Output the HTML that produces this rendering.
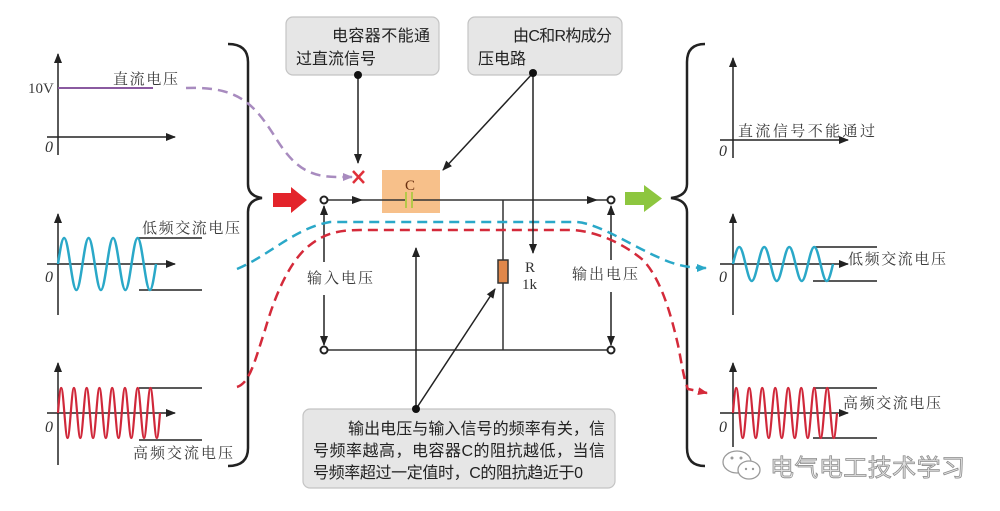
<!DOCTYPE html>
<html><head><meta charset="utf-8"><style>
html,body{margin:0;padding:0;background:#fff;}
svg{display:block;}
.sf{font-family:"Liberation Serif","Noto Serif CJK SC",serif;font-size:15px;fill:#3a3a3a;letter-spacing:2px;}
.bx{font-family:"Liberation Sans","Noto Sans CJK SC",sans-serif;font-size:16px;fill:#222;}
.it{font-family:"Liberation Serif",serif;font-style:italic;font-size:16px;fill:#333;}
</style></head><body>
<svg width="1000" height="511" viewBox="0 0 1000 511" xmlns="http://www.w3.org/2000/svg">
<defs>
<marker id="a" markerWidth="10" markerHeight="8" refX="9" refY="4" orient="auto" markerUnits="userSpaceOnUse"><path d="M0,0 L10,4 L0,8 z" fill="#222"/></marker>
<marker id="ap" markerWidth="10" markerHeight="8" refX="9" refY="4" orient="auto" markerUnits="userSpaceOnUse"><path d="M0,0 L10,4 L0,8 z" fill="#a88bbf"/></marker>
<marker id="ac" markerWidth="10" markerHeight="8" refX="9" refY="4" orient="auto" markerUnits="userSpaceOnUse"><path d="M0,0 L10,4 L0,8 z" fill="#2aa8c8"/></marker>
<marker id="ar" markerWidth="10" markerHeight="8" refX="9" refY="4" orient="auto" markerUnits="userSpaceOnUse"><path d="M0,0 L10,4 L0,8 z" fill="#d42a3a"/></marker>
</defs>

<!-- LEFT GRAPHS -->
<g stroke="#222" stroke-width="1.5" fill="none">
<line x1="58" y1="155" x2="58" y2="54" marker-end="url(#a)"/>
<line x1="47" y1="137" x2="175" y2="137" marker-end="url(#a)"/>
<line x1="58" y1="315" x2="58" y2="214" marker-end="url(#a)"/>
<line x1="47" y1="264" x2="175" y2="264" marker-end="url(#a)"/>
<line x1="58" y1="465" x2="58" y2="363" marker-end="url(#a)"/>
<line x1="47" y1="413" x2="175" y2="413" marker-end="url(#a)"/>
<line x1="138" y1="238" x2="202" y2="238"/>
<line x1="139" y1="290" x2="202" y2="290"/>
<line x1="139" y1="388" x2="202" y2="388"/>
<line x1="139" y1="440" x2="202" y2="440"/>
</g>
<line x1="58" y1="88" x2="153" y2="88" stroke="#8a5aa0" stroke-width="2"/>
<path fill="none" stroke="#2aa8c8" stroke-width="2.5" d="M58,264
c2,-13.3 3.91,-26 6.125,-26 c2.22,0 4.13,12.7 6.125,26 c2,13.3 3.91,26 6.125,26 c2.22,0 4.13,-12.7 6.125,-26
c2,-13.3 3.91,-26 6.125,-26 c2.22,0 4.13,12.7 6.125,26 c2,13.3 3.91,26 6.125,26 c2.22,0 4.13,-12.7 6.125,-26
c2,-13.3 3.91,-26 6.125,-26 c2.22,0 4.13,12.7 6.125,26 c2,13.3 3.91,26 6.125,26 c2.22,0 4.13,-12.7 6.125,-26
c2,-13.3 3.91,-26 6.125,-26 c2.22,0 4.13,12.7 6.125,26 c2,13.3 3.91,26 6.125,26 c2.22,0 4.13,-12.7 6.125,-26"/>
<path fill="none" stroke="#d0283a" stroke-width="2.2" d="M58,413
c1.04,-12.8 2.03,-25 3.1875,-25 c1.15,0 2.15,12.2 3.1875,25 c1.04,12.8 2.03,25 3.1875,25 c1.15,0 2.15,-12.2 3.1875,-25
c1.04,-12.8 2.03,-25 3.1875,-25 c1.15,0 2.15,12.2 3.1875,25 c1.04,12.8 2.03,25 3.1875,25 c1.15,0 2.15,-12.2 3.1875,-25
c1.04,-12.8 2.03,-25 3.1875,-25 c1.15,0 2.15,12.2 3.1875,25 c1.04,12.8 2.03,25 3.1875,25 c1.15,0 2.15,-12.2 3.1875,-25
c1.04,-12.8 2.03,-25 3.1875,-25 c1.15,0 2.15,12.2 3.1875,25 c1.04,12.8 2.03,25 3.1875,25 c1.15,0 2.15,-12.2 3.1875,-25
c1.04,-12.8 2.03,-25 3.1875,-25 c1.15,0 2.15,12.2 3.1875,25 c1.04,12.8 2.03,25 3.1875,25 c1.15,0 2.15,-12.2 3.1875,-25
c1.04,-12.8 2.03,-25 3.1875,-25 c1.15,0 2.15,12.2 3.1875,25 c1.04,12.8 2.03,25 3.1875,25 c1.15,0 2.15,-12.2 3.1875,-25
c1.04,-12.8 2.03,-25 3.1875,-25 c1.15,0 2.15,12.2 3.1875,25 c1.04,12.8 2.03,25 3.1875,25 c1.15,0 2.15,-12.2 3.1875,-25
c1.04,-12.8 2.03,-25 3.1875,-25 c1.15,0 2.15,12.2 3.1875,25 c1.04,12.8 2.03,25 3.1875,25 c1.15,0 2.15,-12.2 3.1875,-25"/>
<text class="sf" x="28" y="93" style="letter-spacing:0">10V</text>
<text class="sf" x="113" y="84" textLength="67">直流电压</text>
<text class="it" x="45" y="152">0</text>
<text class="sf" x="142" y="233" textLength="100">低频交流电压</text>
<text class="it" x="45" y="282">0</text>
<text class="sf" x="133" y="458" textLength="102">高频交流电压</text>
<text class="it" x="45" y="432">0</text>

<!-- BRACES -->
<path fill="none" stroke="#222" stroke-width="2.5" d="M228,44 Q248,44 248,62 L248,184 Q248,196 262,198 Q248,200 248,212 L248,448 Q248,466 228,466"/>
<path fill="none" stroke="#222" stroke-width="2.5" d="M705,44 Q687,44 687,62 L687,184 Q687,196 671,198 Q687,200 687,212 L687,448 Q687,466 705,466"/>

<!-- BLOCK ARROWS -->
<polygon points="273,193 291,193 291,187 307,200 291,213 291,207 273,207" fill="#e3242b"/>
<polygon points="625,192 644,192 644,185 662,198.5 644,212 644,205 625,205" fill="#8dc63f"/>

<!-- TOP BOXES -->
<rect x="286" y="17" width="153" height="58" rx="7" fill="#e6e6e6" stroke="#c4c4c4" stroke-width="1.2"/>
<text class="bx" x="332" y="41" textLength="98">电容器不能通</text>
<text class="bx" x="296" y="64" textLength="80">过直流信号</text>
<rect x="468" y="17" width="154" height="58" rx="7" fill="#e6e6e6" stroke="#c4c4c4" stroke-width="1.2"/>
<text class="bx" x="513" y="41" textLength="99">由C和R构成分</text>
<text class="bx" x="478" y="64" textLength="48">压电路</text>

<!-- CIRCUIT -->
<rect x="382" y="170" width="58" height="43" fill="#f7c08a"/>
<text x="405" y="190" font-family="Liberation Serif,serif" font-size="15" fill="#6a3010">C</text>
<g stroke="#333" stroke-width="1.5" fill="none">
<line x1="324" y1="200" x2="611" y2="200"/>
<line x1="324" y1="350" x2="611" y2="350"/>
<line x1="503" y1="200" x2="503" y2="350"/>
</g>
<line x1="406" y1="192" x2="406" y2="208" stroke="#b5c84a" stroke-width="2"/>
<line x1="412" y1="192" x2="412" y2="208" stroke="#b5c84a" stroke-width="2"/>
<line x1="407" y1="200" x2="411" y2="200" stroke="#f7c08a" stroke-width="2"/>
<polygon points="352,196 363,200 352,204" fill="#222"/>
<polygon points="587,196 598,200 587,204" fill="#222"/>
<rect x="498" y="260" width="10" height="23" fill="#e0874a" stroke="#333" stroke-width="1.5"/>
<text x="525" y="272" font-family="Liberation Serif,serif" font-size="15" fill="#333">R</text>
<text x="522" y="289" font-family="Liberation Serif,serif" font-size="15" fill="#333">1k</text>

<g stroke="#222" stroke-width="1.5" fill="none">
<line x1="324" y1="262" x2="324" y2="206" marker-end="url(#a)"/>
<line x1="324" y1="295" x2="324" y2="345" marker-end="url(#a)"/>
<line x1="611" y1="260" x2="611" y2="206" marker-end="url(#a)"/>
<line x1="611" y1="292" x2="611" y2="345" marker-end="url(#a)"/>
</g>
<text class="sf" x="307" y="283" textLength="68">输入电压</text>
<text class="sf" x="572" y="279" textLength="68">输出电压</text>

<g fill="#fff" stroke="#222" stroke-width="2">
<circle cx="324" cy="200" r="3.5"/>
<circle cx="611" cy="200" r="3.5"/>
<circle cx="324" cy="350" r="3.5"/>
<circle cx="611" cy="350" r="3.5"/>
</g>

<!-- DASHED SIGNAL PATHS -->
<path fill="none" stroke="#a88bbf" stroke-width="2.5" stroke-dasharray="10,6" d="M186,88 C240,86 255,105 277,140 C295,168 310,177 338,177 L352,177" marker-end="url(#ap)"/>
<g stroke="#e0303a" stroke-width="2.5"><line x1="353" y1="171" x2="364" y2="183"/><line x1="364" y1="171" x2="353" y2="183"/></g>
<path fill="none" stroke="#2aa8c8" stroke-width="2.5" stroke-dasharray="10,6" d="M237,269 C270,255 295,228 330,222 L577,222 C600,224 630,245 660,258 C675,265 688,268 706,268" marker-end="url(#ac)"/>
<path fill="none" stroke="#d42a3a" stroke-width="2.5" stroke-dasharray="10,6" d="M237,387 C250,383 255,360 265,330 C275,295 290,260 310,245 C325,233 340,230 360,230 L573,230 C600,232 625,245 643,260 C660,278 670,310 678,345 C682,365 684,380 688,389 L707,393" marker-end="url(#ar)"/>

<!-- ANNOTATION LINES -->
<g stroke="#222" stroke-width="1.5" fill="none">
<line x1="358" y1="75" x2="358" y2="163" marker-end="url(#a)"/>
<line x1="533" y1="73" x2="443" y2="170" marker-end="url(#a)"/>
<line x1="533" y1="73" x2="533" y2="253" marker-end="url(#a)"/>
<line x1="416" y1="409" x2="416" y2="248" marker-end="url(#a)"/>
<line x1="416" y1="409" x2="495" y2="289" marker-end="url(#a)"/>
</g>
<circle cx="358" cy="75" r="4" fill="#111"/>
<circle cx="533" cy="73" r="4" fill="#111"/>

<!-- BOTTOM BOX -->
<rect x="303" y="409" width="312" height="79" rx="7" fill="#e6e6e6" stroke="#c4c4c4" stroke-width="1.2"/>
<circle cx="416" cy="409" r="4" fill="#111"/>
<text class="bx" x="348" y="434" textLength="257">输出电压与输入信号的频率有关，信</text>
<text class="bx" x="313" y="456" textLength="292">号频率越高，电容器C的阻抗越低，当信</text>
<text class="bx" x="313" y="478" textLength="270">号频率超过一定值时，C的阻抗趋近于0</text>

<!-- RIGHT GRAPHS -->
<g stroke="#222" stroke-width="1.5" fill="none">
<line x1="733" y1="158" x2="733" y2="58" marker-end="url(#a)"/>
<line x1="720" y1="140" x2="848" y2="140" marker-end="url(#a)"/>
<line x1="733" y1="315" x2="733" y2="214" marker-end="url(#a)"/>
<line x1="720" y1="264" x2="848" y2="264" marker-end="url(#a)"/>
<line x1="733" y1="447" x2="733" y2="363" marker-end="url(#a)"/>
<line x1="720" y1="413" x2="848" y2="413" marker-end="url(#a)"/>
<line x1="813" y1="247" x2="877" y2="247"/>
<line x1="813" y1="281" x2="877" y2="281"/>
<line x1="813" y1="388" x2="877" y2="388"/>
<line x1="813" y1="438" x2="877" y2="438"/>
</g>
<path fill="none" stroke="#2aa8c8" stroke-width="2.5" d="M733,264
c2.04,-8.7 3.99,-17 6.25,-17 c2.26,0 4.21,8.3 6.25,17 c2.04,8.7 3.99,17 6.25,17 c2.26,0 4.21,-8.3 6.25,-17
c2.04,-8.7 3.99,-17 6.25,-17 c2.26,0 4.21,8.3 6.25,17 c2.04,8.7 3.99,17 6.25,17 c2.26,0 4.21,-8.3 6.25,-17
c2.04,-8.7 3.99,-17 6.25,-17 c2.26,0 4.21,8.3 6.25,17 c2.04,8.7 3.99,17 6.25,17 c2.26,0 4.21,-8.3 6.25,-17
c2.04,-8.7 3.99,-17 6.25,-17 c2.26,0 4.21,8.3 6.25,17 c2.04,8.7 3.99,17 6.25,17 c2.26,0 4.21,-8.3 6.25,-17"/>
<path fill="none" stroke="#d0283a" stroke-width="2.2" d="M733,413
c1.06,-12.8 2.07,-25 3.25,-25 c1.18,0 2.19,12.2 3.25,25 c1.06,12.8 2.07,25 3.25,25 c1.18,0 2.19,-12.2 3.25,-25
c1.06,-12.8 2.07,-25 3.25,-25 c1.18,0 2.19,12.2 3.25,25 c1.06,12.8 2.07,25 3.25,25 c1.18,0 2.19,-12.2 3.25,-25
c1.06,-12.8 2.07,-25 3.25,-25 c1.18,0 2.19,12.2 3.25,25 c1.06,12.8 2.07,25 3.25,25 c1.18,0 2.19,-12.2 3.25,-25
c1.06,-12.8 2.07,-25 3.25,-25 c1.18,0 2.19,12.2 3.25,25 c1.06,12.8 2.07,25 3.25,25 c1.18,0 2.19,-12.2 3.25,-25
c1.06,-12.8 2.07,-25 3.25,-25 c1.18,0 2.19,12.2 3.25,25 c1.06,12.8 2.07,25 3.25,25 c1.18,0 2.19,-12.2 3.25,-25
c1.06,-12.8 2.07,-25 3.25,-25 c1.18,0 2.19,12.2 3.25,25 c1.06,12.8 2.07,25 3.25,25 c1.18,0 2.19,-12.2 3.25,-25
c1.06,-12.8 2.07,-25 3.25,-25 c1.18,0 2.19,12.2 3.25,25 c1.06,12.8 2.07,25 3.25,25 c1.18,0 2.19,-12.2 3.25,-25
c1.06,-12.8 2.07,-25 3.25,-25 c1.18,0 2.19,12.2 3.25,25 c1.06,12.8 2.07,25 3.25,25 c1.18,0 2.19,-12.2 3.25,-25"/>
<text class="sf" x="738" y="136" textLength="139">直流信号不能通过</text>
<text class="it" x="719" y="156">0</text>
<text class="sf" x="848" y="264" textLength="100">低频交流电压</text>
<text class="it" x="719" y="282">0</text>
<text class="sf" x="843" y="408" textLength="100">高频交流电压</text>
<text class="it" x="719" y="432">0</text>

<!-- WATERMARK -->
<g fill="#fff" stroke="#9a9a9a" stroke-width="1.3">
<ellipse cx="737" cy="462" rx="14" ry="11"/>
<ellipse cx="749" cy="470" rx="11" ry="9"/>
</g>
<g fill="#9a9a9a"><circle cx="732" cy="458" r="1.5"/><circle cx="741" cy="458" r="1.5"/><circle cx="746" cy="469" r="1.2"/><circle cx="753" cy="469" r="1.2"/></g>
<text x="770" y="476" font-family="Liberation Sans,'Noto Sans CJK SC',sans-serif" font-size="24" fill="#e4e4e4" stroke="#8c8c8c" stroke-width="0.8" textLength="195">电气电工技术学习</text>
</svg>
</body></html>
